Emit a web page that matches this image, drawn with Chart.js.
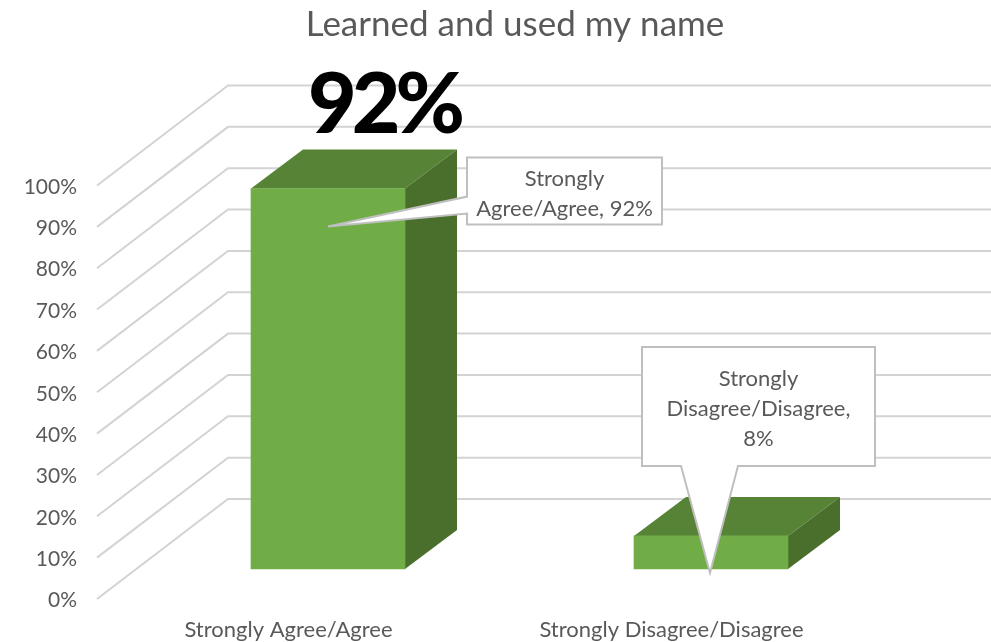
<!DOCTYPE html>
<html>
<head>
<meta charset="utf-8">
<style>html,body{margin:0;padding:0;background:#fff}#w{width:991px;height:642px}</style>
<script src="https://cdn.jsdelivr.net/npm/chart.js@4/dist/chart.umd.min.js"></script>
</head>
<body>
<div id="w"><canvas id="c" width="991" height="642"></canvas></div>
<script>
const categories = ["Strongly Agree/Agree", "Strongly Disagree/Disagree"];
const values = [92, 8];
const tickStep = 10;
const calloutLines = [["Strongly", "Agree/Agree, 92%"], ["Strongly", "Disagree/Disagree,", "8%"]];
const headline = "92%";
const titleText = "Learned and used my name";

const FONT = "Lato, Carlito, sans-serif";
const GREY = "#595959";
const WALL = {dx: 131, dy: -100, color: "#d3d3d3"};
const BAR = {shiftX: 39.5, shiftY: -30, dx: 52, dy: -39, front: "#70ad47", top: "#578337", side: "#4a6e2b"};

function poly(ctx, pts, fill, stroke, lw) {
  ctx.beginPath();
  pts.forEach((p, i) => i ? ctx.lineTo(p[0], p[1]) : ctx.moveTo(p[0], p[1]));
  ctx.closePath();
  if (fill) { ctx.fillStyle = fill; ctx.fill(); }
  if (stroke) { ctx.strokeStyle = stroke; ctx.lineWidth = lw; ctx.stroke(); }
}

const walls = {
  id: "walls",
  afterLayout(chart) {
    chart.titleBlock.left = 39;
  },
  beforeDatasetsDraw(chart) {
    const {ctx, scales: {y}, chartArea: a} = chart;
    ctx.save();
    ctx.strokeStyle = WALL.color;
    ctx.lineWidth = 2;
    y.ticks.forEach(t => {
      const py = y.getPixelForValue(t.value);
      ctx.beginPath();
      ctx.moveTo(a.left, py);
      ctx.lineTo(a.left + WALL.dx, py + WALL.dy);
      ctx.lineTo(chart.width, py + WALL.dy);
      ctx.stroke();
    });
    ctx.restore();
    ctx.save();
    ctx.translate(BAR.shiftX, BAR.shiftY);
    chart.getDatasetMeta(0).data.forEach(b => {
      const l = b.x - b.width / 2, r = b.x + b.width / 2, t = b.y, bt = b.base;
      poly(ctx, [[l, t], [l + BAR.dx, t + BAR.dy], [r + BAR.dx, t + BAR.dy], [r, t]], BAR.top);
      poly(ctx, [[r, t], [r + BAR.dx, t + BAR.dy], [r + BAR.dx, bt + BAR.dy], [r, bt]], BAR.side);
    });
  },
  afterDatasetsDraw(chart) {
    chart.ctx.restore();
  }
};

const callouts = [
  {box: [139, -31, 334, 36], tip: [0, 38], base: [[139, 8], [139, 25]]},
  {box: [-69, -189, 164, -70], tip: [-1, 37], base: [[-30, -70], [27, -70]]}
];

const annotations = {
  id: "annotations",
  afterDraw(chart) {
    const {ctx} = chart;
    ctx.save();
    chart.getDatasetMeta(0).data.forEach((b, i) => {
      const cx = b.x + BAR.shiftX, cy = b.y + BAR.shiftY, c = callouts[i];
      const [x0, y0, x1, y1] = [cx + c.box[0], cy + c.box[1], cx + c.box[2], cy + c.box[3]];
      const tip = [cx + c.tip[0], cy + c.tip[1]];
      const p0 = [cx + c.base[0][0], cy + c.base[0][1]], p1 = [cx + c.base[1][0], cy + c.base[1][1]];
      const pts = i === 0
        ? [[x0, y0], [x1, y0], [x1, y1], [x0, y1], p1, tip, p0]
        : [[x0, y0], [x1, y0], [x1, y1], p1, tip, p0, [x0, y1]];
      ctx.lineJoin = "miter";
      poly(ctx, pts, "#ffffff", "#bfbfbf", 2);
      ctx.fillStyle = GREY;
      ctx.font = "22px " + FONT;
      ctx.textAlign = "center";
      ctx.textBaseline = "middle";
      const lines = calloutLines[i], lh = 30;
      const mx = (x0 + x1) / 2, my = (y0 + y1) / 2 + 2.5;
      lines.forEach((s, k) => ctx.fillText(s, mx, my + (k - (lines.length - 1) / 2) * lh));
    });
    ctx.fillStyle = "#000000";
    ctx.font = "900 84px " + FONT;
    ctx.letterSpacing = "-5px";
    ctx.textAlign = "center";
    ctx.textBaseline = "alphabetic";
    ctx.fillText(headline, 384, 133);
    ctx.restore();
  }
};

new Chart(document.getElementById("c"), {
  type: "bar",
  data: {
    labels: categories,
    datasets: [{
      data: values,
      backgroundColor: BAR.front,
      barThickness: 154,
      borderWidth: 0,
      clip: false,
      yAxisID: "y"
    }]
  },
  plugins: [walls, annotations],
  options: {
    responsive: false,
    animation: false,
    plugins: {
      legend: {display: false},
      tooltip: {enabled: false},
      title: {
        display: true,
        text: titleText,
        color: GREY,
        font: {family: FONT, size: 35, weight: "normal", lineHeight: 1.2},
        padding: {top: 4, bottom: 139.5}
      }
    },
    scales: {
      x: {
        grid: {display: false},
        border: {display: false},
        ticks: {color: GREY, font: {family: FONT, size: 22}, padding: 10, maxRotation: 0, autoSkip: false},
        afterFit(s) { s.height = 43; }
      },
      y: {
        min: 0,
        max: 100,
        grid: {display: false},
        border: {display: false},
        ticks: {stepSize: tickStep, color: GREY, font: {family: FONT, size: 21}, padding: 12, labelOffset: 1.5, callback: v => v + "%"},
        afterFit(s) { s.width = 97; }
      },
      spacer: {
        position: "right",
        min: 0,
        max: 1,
        grid: {display: false},
        border: {display: false},
        ticks: {display: false},
        afterFit(s) { s.width = 128; }
      }
    }
  }
});
</script>
</body>
</html>
